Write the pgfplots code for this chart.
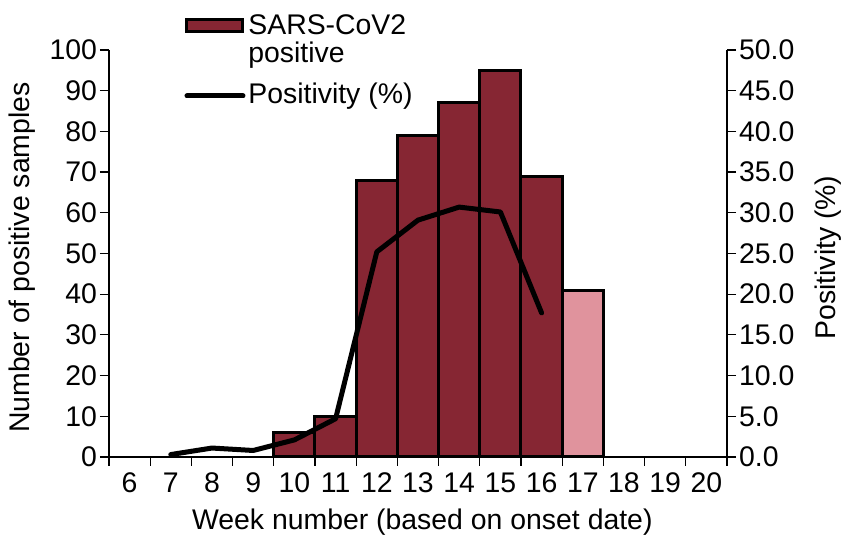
\documentclass[border=0pt]{standalone}
\usepackage{fontspec}
\setmainfont{Liberation Sans}
\usepackage{pgfplots}
\pgfplotsset{compat=1.18}
\definecolor{barred}{RGB}{134,38,51}
\definecolor{barpink}{RGB}{224,147,157}

\pgfplotsset{
  twin/.style={
    scale only axis, width=309pt, height=203.5pt,
    xmin=5.5, xmax=20.5,
    font=\fontsize{14.2}{16}\selectfont,
    /pgf/number format/assume math mode=true,
    tick align=outside,
    major tick length=4.5pt, minor tick length=4.5pt,
    axis line style={line width=0.6pt},
    every tick/.style={black, line width=0.6pt},
  }
}

\begin{document}
\begin{tikzpicture}[font=\fontsize{14.2}{16}\selectfont]
\useasboundingbox (-54.5pt,-41pt) rectangle (366.5pt,228.5pt);

% weekly positive samples (left axis)
\begin{axis}[twin,
  ymin=0, ymax=100, ytick={0,10,...,100},
  axis x line*=bottom, axis y line*=left,
  xtick={6,...,20}, minor xtick={5.5,6.5,...,20.5},
  major x tick style={draw=none},
  yticklabel style={xshift=2pt},
  xlabel={Week number (based on onset date)},
  ylabel={Number of positive samples},
  xlabel style={at={(axis description cs:0.507,-0.16)}, anchor=center},
  ylabel style={at={(axis description cs:-0.141,0.49)}, anchor=center},
]
\addplot[ybar, bar width=1, bar shift=0pt, fill=barred, draw=black, line width=1.5pt]
coordinates {(10,6) (11,10) (12,68) (13,79) (14,87) (15,95) (16,69)};
\addplot[ybar, bar width=1, bar shift=0pt, fill=barpink, draw=black, line width=1.5pt]
coordinates {(17,41)};
\end{axis}

% positivity (right axis)
\begin{axis}[twin,
  ymin=0, ymax=50, ytick={0,5,...,50},
  axis y line*=right, axis x line=none,
  yticklabel style={xshift=-2pt, /pgf/number format/.cd, fixed, fixed zerofill, precision=1},
  ylabel={Positivity (\%)},
  ylabel style={at={(axis description cs:1.163,0.49)}, anchor=center},
]
\addplot[black, line width=2.5pt, line join=round, line cap=round]
coordinates {(7,0.3) (8,1.1) (9,0.8) (10,2.1) (11,4.7) (12,25.2) (13,29.1) (14,30.7) (15,30.1) (16,17.7)};
\end{axis}

% legend
\filldraw[fill=barred, draw=black, line width=1.5pt] (39pt,212.5pt) rectangle (67pt,218.5pt);
\node[anchor=base west, inner sep=0pt] at (69.5pt,211pt) {SARS-CoV2};
\node[anchor=base west, inner sep=0pt] at (69.5pt,197pt) {positive};
\draw[black, line width=2.5pt, line cap=round] (39pt,180.5pt) -- (67pt,180.5pt);
\node[anchor=base west, inner sep=0pt] at (69.5pt,176.5pt) {Positivity (\%)};
\end{tikzpicture}
\end{document}
